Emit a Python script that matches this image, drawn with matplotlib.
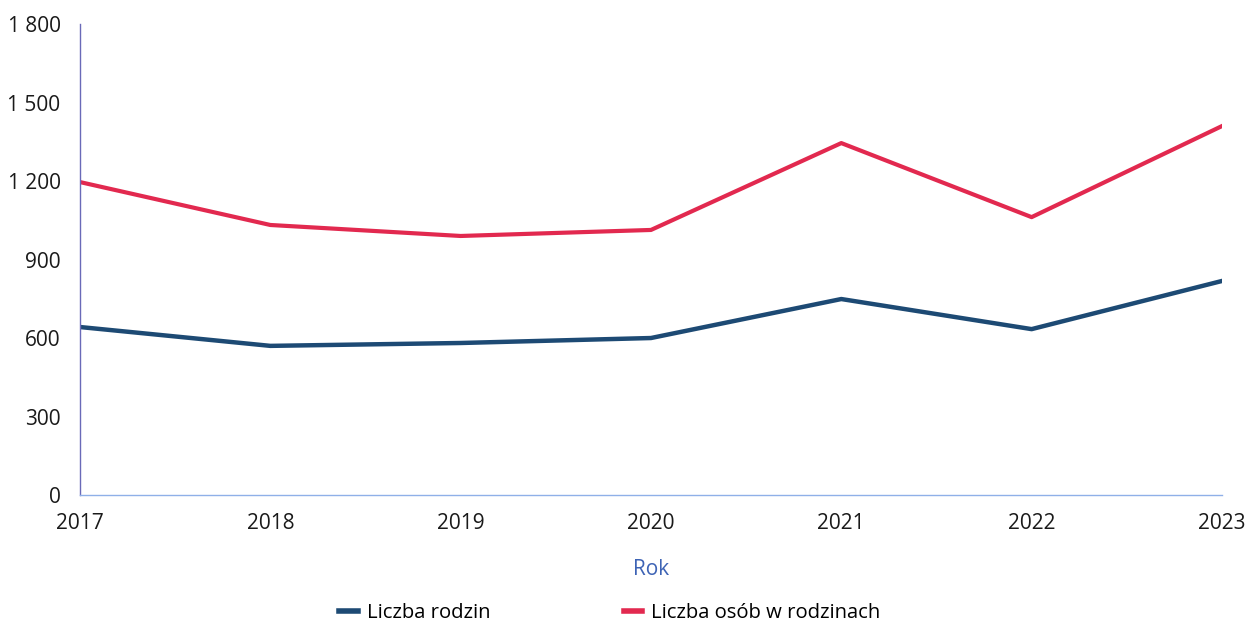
import matplotlib
matplotlib.use("Agg")
import matplotlib.pyplot as plt
from matplotlib.ticker import FuncFormatter

# Dane
lata = [2017, 2018, 2019, 2020, 2021, 2022, 2023]
liczba_rodzin = [642, 570, 581, 600, 749, 634, 818]
liczba_osob = [1196, 1032, 990, 1013, 1345, 1062, 1410]
y_ticks = [0, 300, 600, 900, 1200, 1500, 1800]

plt.rcParams['font.family'] = ['Open Sans', 'DejaVu Sans']

fig = plt.figure(figsize=(12.46, 6.24), dpi=100)
ax = fig.add_axes([0.0642, 0.2067, 0.9165, 0.7548])

ax.plot(lata, liczba_rodzin, color='#1d4a74', lw=3.2, label='Liczba rodzin')
ax.plot(lata, liczba_osob, color='#e2294f', lw=3.0, label='Liczba osób w rodzinach')

ax.set_xlim(2017, 2023)
ax.set_ylim(0, 1800)
ax.set_xticks(lata)
ax.set_yticks(y_ticks)
ax.yaxis.set_major_formatter(FuncFormatter(lambda v, p: f"{int(v):,}".replace(",", " ")))
ax.tick_params(axis='both', length=0, labelsize=15, colors='#1a1a1a')
ax.tick_params(axis='y', pad=14)
ax.tick_params(axis='x', pad=13)

for s in ['top', 'right']:
    ax.spines[s].set_visible(False)
ax.spines['left'].set_color('#6a6ab8')
ax.spines['left'].set_linewidth(1.0)
ax.spines['bottom'].set_color('#8fb0e8')
ax.spines['bottom'].set_linewidth(1.0)

ax.set_xlabel('Rok', color='#3d63b5', fontsize=15, labelpad=18)

leg = fig.legend(loc='lower center', bbox_to_anchor=(0.4896, -0.028), ncol=2,
                 frameon=False, fontsize=14.6, handlelength=0.9,
                 handletextpad=0.45, columnspacing=6.6)
for h in leg.get_lines():
    h.set_linewidth(4)

fig.savefig('out.png', dpi=100)
